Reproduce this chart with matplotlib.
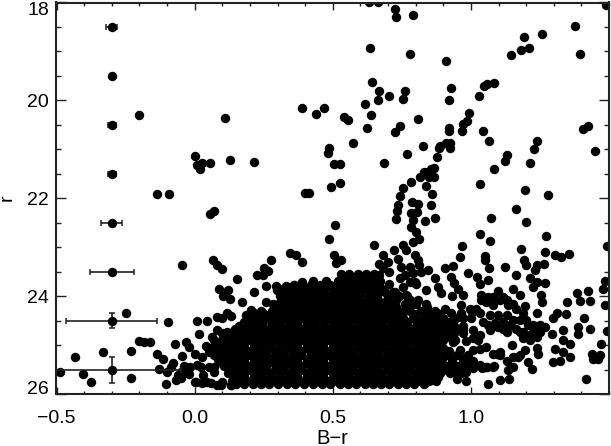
import matplotlib
matplotlib.use("Agg")
import matplotlib.pyplot as plt
from matplotlib.ticker import MultipleLocator
from matplotlib.transforms import ScaledTranslation

# reference stars with error bars
err_x = [-0.30, -0.30, -0.30, -0.30, -0.30, -0.30, -0.30, -0.30]
err_r = [18.5, 19.5, 20.5, 21.5, 22.5, 23.5, 24.5, 25.5]
err_dx = [0.02, 0.005, 0.015, 0.015, 0.038, 0.08, 0.165, 0.25]
err_dr = [0.01, 0.01, 0.01, 0.01, 0.02, 0.02, 0.15, 0.26]

# sparse stars, upper half
top_x = [-0.20, 0.11, 0.39, 0.0, 0.025, 0.01, 0.02, 0.055, 0.128, 0.214, -0.135, -0.093, 0.40, 0.055, 0.07,
         0.633, 0.663, 0.726, 0.728, 0.789, 0.635, 0.78, 0.911, 0.641, 0.666, 0.663, 0.705, 0.762, 0.755, 0.617,
         0.639, 0.469, 0.439, 0.54, 0.555, 0.624, 0.807, 0.744, 0.724, 0.574, 0.488, 0.484, 0.768, 0.828, 0.684,
         0.503, 0.526, 0.528, 0.494, 0.413, 0.927, 0.921, 0.921, 0.921, 0.909, 0.926, 0.923, 0.889, 0.883, 0.877,
         0.868, 0.857, 0.845, 0.832, 0.816, 0.868, 0.85, 0.785, 0.755, 0.837, 0.744, 0.859, 0.786, 0.808, 0.854,
         0.738, 0.733, 0.806, 0.784, 0.73, 0.871, 0.79, 0.835, 0.508, 1.072, 1.2, 1.163, 1.197, 1.278, 1.034,
         1.084, 1.125, 1.13, 1.214, 1.23, 1.241, 1.45, 1.406, 1.423, 1.067, 1.044, 0.969, 0.971, 0.987, 0.995,
         1.031, 1.048, 1.058, 1.085, 1.145, 1.18, 1.211, 1.192, 1.256, 1.378, 1.395, 1.49]
top_r = [20.3, 20.35, 20.16, 21.13, 21.27, 21.32, 21.4, 21.28, 21.21, 21.26, 21.92, 21.9, 21.88, 22.31, 22.26,
         18.0, 18.0, 18.13, 18.3, 18.26, 18.93, 19.06, 19.2, 19.62, 19.8, 20.0, 19.91, 19.8, 19.97, 20.07,
         20.29, 20.16, 20.28, 20.33, 20.4, 20.56, 20.37, 20.52, 20.65, 20.86, 20.98, 21.08, 21.09, 20.93, 21.27,
         21.3, 21.29, 21.68, 21.77, 21.88, 19.74, 19.99, 20.57, 20.62, 20.86, 20.86, 20.98, 20.93, 20.97, 21.16,
         21.37, 21.39, 21.46, 21.47, 21.56, 21.57, 21.56, 21.67, 21.78, 21.75, 21.95, 21.9, 22.07, 22.11, 22.13,
         22.14, 22.25, 22.27, 22.3, 22.42, 22.4, 22.44, 22.47, 22.55, 22.4, 22.49, 22.21, 21.82, 21.94, 21.7,
         21.39, 21.23, 21.12, 21.27, 20.99, 20.82, 21.03, 20.58, 20.53, 20.83, 20.62, 20.62, 20.48, 20.41, 20.26,
         19.91, 19.71, 19.67, 19.64, 19.07, 18.98, 18.92, 18.7, 18.64, 18.49, 19.05, 18.06]

# sparse stars, lower left
left_x = [-0.047, 0.067, 0.082, 0.098, 0.155, 0.278, 0.345, 0.367, 0.39, 0.252, 0.264, 0.225, 0.246, 0.258, 0.293,
          0.298, 0.33, 0.36, 0.39, 0.087, 0.122, 0.103, 0.128, 0.214, 0.171, 0.258, 0.282, 0.119, 0.133, 0.082,
          0.10, 0.203, 0.185, 0.215, -0.248, -0.097, 0.01, 0.046, 0.015, 0.082, 0.116, 0.064, 0.076, -0.20, -0.184,
          -0.16, -0.033, -0.071, -0.019, 0.04, -0.23, -0.33, -0.432, -0.136, -0.115, -0.047, 0.0, 0.028, 0.052,
          -0.077, -0.129, -0.10, -0.486, -0.404, -0.374, -0.232, -0.103, -0.069, -0.051, -0.015, -0.04, 0.01,
          0.052, 0.07, 0.0, 0.028, 0.058, 0.082, 0.10, 0.13, -0.06, -0.085, -0.02, 0.03,
          -0.027, 0.022, 0.07, 0.094, 0.119, 0.143, -0.05, 0.004, 0.046, 0.094, 0.131, 0.143, 0.167, 0.094, 0.131,
          0.179, 0.191]
left_r = [23.36, 23.25, 23.36, 23.44, 23.64, 23.25, 23.12, 23.16, 23.3, 23.43, 23.49, 23.57, 23.57, 23.79, 23.79,
          23.87, 23.79, 23.77, 23.7, 23.86, 23.87, 24.0, 24.05, 23.91, 24.11, 24.11, 24.15, 24.33, 24.4, 24.43,
          24.44, 24.28, 24.38, 24.35, 24.34, 24.53, 24.5, 24.5, 24.77, 24.69, 24.73, 24.83, 24.93, 24.91, 24.94,
          24.93, 24.93, 24.98, 25.03, 25.01, 25.12, 25.13, 25.23, 25.18, 25.27, 25.22, 25.17, 25.24, 25.14,
          25.37, 25.48, 25.54, 25.55, 25.58, 25.75, 25.67, 25.79, 25.71, 25.66, 25.45, 25.43, 25.41,
          25.44, 25.54, 25.75, 25.76, 25.77, 25.8, 25.75, 25.8, 25.6, 25.45, 25.58, 25.6,
          25.47, 25.44, 25.44, 25.3, 25.24, 25.14, 25.54, 25.75, 25.75, 25.81, 25.82, 25.54, 25.4, 25.0, 24.86,
          24.73, 24.53]

# sparse stars, lower right
right_x = [1.034, 1.068, 1.273, 1.492, 0.488, 0.506, 0.53, 0.51, 0.651, 0.969, 0.959, 1.05, 1.05, 1.183, 1.193,
           1.199, 1.267, 1.303, 1.328, 1.355, 1.264, 1.238, 1.232, 1.125, 1.066, 1.163, 1.214, 1.241, 1.268, 1.226,
           0.905, 0.935, 0.845, 0.869, 0.929, 0.99, 1.022, 1.032, 1.062, 0.939, 0.953, 0.881, 0.893, 0.836, 0.932,
           0.971, 1.153, 1.177, 1.254, 1.258, 1.099, 1.038, 1.383, 1.423, 1.486, 1.48, 1.347, 1.395, 1.432, 1.486,
           1.195, 1.165, 1.238, 1.31, 1.344, 1.298, 1.411, 1.389, 1.432, 1.492, 1.389, 1.292, 1.335, 1.335, 1.359,
           1.304, 1.335, 1.359, 1.323, 1.296, 1.47, 1.437, 1.467, 1.443, 1.461, 1.417, 1.238, 1.244, 1.195, 1.171,
           1.15, 1.129, 1.153, 1.135, 1.207, 1.222, 1.104, 1.138, 1.062, 0.981, 0.951, 1.02, 1.056, 1.08, 1.105,
           1.135, 1.068, 1.098, 1.129, 1.117, 1.141, 1.177, 1.201, 1.226, 1.25, 1.268, 1.238, 1.201, 1.214, 1.189,
           1.165, 1.129, 1.098, 1.068, 1.008, 0.984, 1.026, 1.032, 1.056, 1.093, 1.105, 1.008, 1.004, 0.965, 0.935,
           0.929, 0.905, 1.04, 1.06, 1.085,
           1.038, 1.062, 1.08, 1.116, 1.129, 1.153, 1.032, 1.044, 1.062, 1.087, 1.117, 1.153, 1.189, 1.208, 1.177,
           1.226, 1.25, 1.189, 1.238, 0.965, 0.971, 0.996, 0.947, 0.935, 0.971, 1.002, 1.032, 0.923, 0.941, 1.008,
           0.959, 0.984, 1.008, 1.032, 1.056, 1.08, 1.008, 0.984, 0.965, 1.08, 1.105, 1.153, 1.177]
right_r = [22.72, 22.87, 22.76, 22.97, 22.82, 23.16, 23.25, 23.31, 22.95, 22.98, 23.19, 23.18, 23.26, 23.03, 23.25,
           23.36, 23.1, 23.15, 23.2, 23.13, 23.34, 23.36, 23.47, 23.41, 23.43, 23.57, 23.62, 23.7, 23.72, 23.81,
           23.43, 23.38, 23.47, 23.62, 23.6, 23.53, 23.6, 23.74, 23.66, 23.72, 23.84, 23.81, 23.93, 23.87, 24.0,
           23.98, 23.84, 23.98, 23.98, 24.11, 23.9, 23.98, 23.93, 23.9, 23.68, 23.84, 24.11, 24.1, 24.1, 24.18,
           24.2, 24.25, 24.35, 24.35, 24.37, 24.45, 24.45, 24.62, 24.66, 24.7, 24.77, 24.76, 24.69, 24.9, 24.97,
           25.08, 25.13, 25.24, 25.31, 25.35, 24.98, 25.17, 25.2, 25.27, 25.27, 25.69, 25.06, 25.17, 25.1, 25.24,
           25.0, 25.31, 25.44, 25.51, 25.34, 25.49, 25.7, 25.69, 25.79, 25.73, 25.68, 24.25, 24.11, 24.18, 24.08,
           24.17, 24.38, 24.38, 24.38, 24.52, 24.59, 24.49, 24.49, 24.59, 24.59, 24.62, 24.69, 24.79, 24.9, 24.72,
           24.66, 24.72, 24.62, 24.69, 24.69, 24.91, 24.9, 25.07, 25.03, 25.17, 25.2, 25.1, 24.32, 24.33, 24.93,
           24.35, 24.25, 25.46, 25.45, 25.42,
           24.08, 24.01, 24.01, 24.01, 24.08, 24.15, 24.35, 24.52, 24.59, 24.55, 24.66, 24.49, 24.35, 24.59, 24.72,
           24.72, 24.72, 24.86, 24.83, 24.18, 24.45, 24.25, 24.45, 24.59, 24.66, 24.45, 24.79, 24.79, 24.89, 24.86,
           25.1, 25.24, 25.31, 25.41, 25.44, 25.44, 25.47, 25.54, 25.57, 25.17, 25.13, 25.24, 25.2]

# plume of stars rising out of the main clump
plume_x = [0.681, 0.72, 0.754, 0.784, 0.802, 0.814, 0.79, 0.766, 0.796, 0.808, 0.814, 0.668, 0.699, 0.735, 0.747,
           0.778, 0.79, 0.82, 0.76, 0.742, 0.778, 0.802, 0.681, 0.705,
           0.669, 0.705, 0.754, 0.796, 0.718, 0.766, 0.808, 0.839, 0.778]
plume_r = [23.16, 23.06, 22.95, 22.58, 22.68, 22.82, 22.89, 23.06, 23.16, 23.26, 23.36, 23.33, 23.3, 23.23, 23.4,
           23.4, 23.53, 23.5, 23.56, 23.63, 23.7, 23.74, 23.43, 23.5,
           23.57, 23.74, 23.81, 23.7, 23.91, 23.98, 24.08, 24.15, 24.18]

# main clump, read row by row since single stars can't be told apart there
clump_r = [23.55, 23.68, 23.85, 24.0, 24.15, 24.3, 24.45, 24.6, 24.75, 24.9, 25.05, 25.2, 25.35, 25.5, 25.65, 25.78]
clump_x = [
    [0.53, 0.56, 0.59, 0.62, 0.65],
    [0.43, 0.475, 0.52, 0.55, 0.58, 0.61, 0.64, 0.67],
    [0.31, 0.35, 0.38, 0.41, 0.44, 0.47, 0.50, 0.53, 0.56, 0.585, 0.62, 0.65, 0.68],
    [0.31, 0.335, 0.365, 0.39, 0.42, 0.45, 0.485, 0.51, 0.54, 0.57, 0.60, 0.63, 0.66, 0.70, 0.74, 0.77],
    [0.30, 0.34, 0.37, 0.405, 0.435, 0.465, 0.50, 0.525, 0.555, 0.585, 0.615, 0.645, 0.68, 0.71, 0.76, 0.80],
    [0.24, 0.28, 0.31, 0.345, 0.375, 0.41, 0.44, 0.47, 0.50, 0.53, 0.56, 0.59, 0.62, 0.65, 0.68, 0.71, 0.74, 0.78,
     0.82, 0.87],
    [0.19, 0.23, 0.26, 0.295, 0.325, 0.36, 0.39, 0.42, 0.455, 0.485, 0.515, 0.545, 0.575, 0.605, 0.635, 0.665,
     0.695, 0.725, 0.755, 0.79, 0.83, 0.87, 0.90],
    [0.16, 0.19, 0.22, 0.245, 0.28, 0.31, 0.34, 0.375, 0.405, 0.435, 0.47, 0.50, 0.53, 0.56, 0.59, 0.62, 0.65,
     0.68, 0.71, 0.74, 0.77, 0.80, 0.83, 0.86, 0.90, 0.94, 0.97],
    [0.10, 0.13, 0.16, 0.195, 0.225, 0.26, 0.29, 0.32, 0.355, 0.385, 0.415, 0.45, 0.48, 0.515, 0.545, 0.575, 0.605,
     0.635, 0.665, 0.695, 0.725, 0.755, 0.785, 0.815, 0.845, 0.875, 0.91, 0.94, 0.97],
    [0.07, 0.10, 0.135, 0.165, 0.20, 0.23, 0.26, 0.295, 0.325, 0.355, 0.39, 0.42, 0.45, 0.485, 0.515, 0.545, 0.575,
     0.605, 0.635, 0.665, 0.695, 0.725, 0.755, 0.785, 0.815, 0.84, 0.87, 0.90],
    [0.06, 0.09, 0.115, 0.15, 0.18, 0.215, 0.245, 0.275, 0.31, 0.34, 0.37, 0.405, 0.435, 0.465, 0.50, 0.53, 0.56,
     0.59, 0.62, 0.65, 0.68, 0.71, 0.74, 0.77, 0.80, 0.83, 0.86, 0.90],
    [0.07, 0.10, 0.135, 0.165, 0.195, 0.23, 0.26, 0.29, 0.325, 0.355, 0.385, 0.42, 0.45, 0.48, 0.515, 0.545, 0.575,
     0.605, 0.635, 0.665, 0.695, 0.725, 0.755, 0.785, 0.815, 0.845, 0.875, 0.91, 0.95, 0.99],
    [0.09, 0.12, 0.15, 0.18, 0.215, 0.245, 0.275, 0.31, 0.34, 0.37, 0.405, 0.435, 0.465, 0.50, 0.53, 0.56, 0.59,
     0.62, 0.65, 0.68, 0.71, 0.74, 0.77, 0.80, 0.83, 0.86, 0.89, 0.93, 0.97, 1.0],
    [0.15, 0.165, 0.195, 0.23, 0.26, 0.29, 0.325, 0.355, 0.385, 0.42, 0.45, 0.48, 0.515, 0.545, 0.575, 0.605, 0.635,
     0.665, 0.695, 0.725, 0.755, 0.785, 0.815, 0.845, 0.875, 0.90, 0.93, 0.97],
    [0.15, 0.18, 0.215, 0.245, 0.275, 0.31, 0.34, 0.37, 0.405, 0.435, 0.465, 0.50, 0.53, 0.56, 0.59, 0.62, 0.65,
     0.68, 0.71, 0.74, 0.77, 0.80, 0.83, 0.86, 0.88],
    [0.15, 0.18, 0.21, 0.24, 0.27, 0.30, 0.335, 0.365, 0.395, 0.43, 0.46, 0.49, 0.525, 0.555, 0.585, 0.615, 0.645,
     0.675, 0.705, 0.735, 0.765, 0.795, 0.83],
]

# in-between rows of the clump
clump2_r = [23.62, 23.77, 23.92, 24.07, 24.22, 24.37, 24.52, 24.67, 24.82, 24.97, 25.12, 25.27, 25.42, 25.57, 25.72]
clump2_x = [
    [0.535, 0.565, 0.60, 0.635, 0.66],
    [0.36, 0.39, 0.42, 0.455, 0.49, 0.525, 0.56, 0.59, 0.625, 0.655],
    [0.32, 0.35, 0.38, 0.41, 0.44, 0.47, 0.505, 0.535, 0.565, 0.60, 0.63, 0.66, 0.69, 0.725],
    [0.32, 0.35, 0.38, 0.415, 0.445, 0.475, 0.51, 0.54, 0.57, 0.60, 0.63, 0.665, 0.695, 0.73, 0.78],
    [0.29, 0.325, 0.355, 0.39, 0.42, 0.45, 0.485, 0.515, 0.545, 0.575, 0.61, 0.64, 0.67, 0.70, 0.73, 0.77, 0.84],
    [0.215, 0.25, 0.285, 0.32, 0.35, 0.38, 0.415, 0.445, 0.475, 0.51, 0.54, 0.57, 0.60, 0.63, 0.66, 0.69, 0.72,
     0.75, 0.80, 0.845, 0.885],
    [0.18, 0.21, 0.245, 0.275, 0.31, 0.34, 0.37, 0.405, 0.435, 0.47, 0.50, 0.53, 0.56, 0.59, 0.62, 0.65, 0.68,
     0.71, 0.74, 0.77, 0.81, 0.85, 0.885, 0.92],
    [0.145, 0.175, 0.21, 0.24, 0.27, 0.305, 0.335, 0.365, 0.40, 0.43, 0.46, 0.495, 0.525, 0.555, 0.585, 0.615,
     0.645, 0.675, 0.705, 0.735, 0.765, 0.795, 0.825, 0.855, 0.885, 0.925, 0.955],
    [0.115, 0.15, 0.18, 0.21, 0.245, 0.275, 0.305, 0.34, 0.37, 0.40, 0.435, 0.465, 0.495, 0.53, 0.56, 0.59, 0.62,
     0.65, 0.68, 0.71, 0.74, 0.77, 0.80, 0.83, 0.86, 0.89, 0.925],
    [0.085, 0.12, 0.15, 0.18, 0.215, 0.245, 0.275, 0.31, 0.34, 0.37, 0.405, 0.435, 0.465, 0.50, 0.53, 0.56, 0.59,
     0.62, 0.65, 0.68, 0.71, 0.74, 0.77, 0.80, 0.83, 0.855, 0.885],
    [0.075, 0.105, 0.135, 0.165, 0.20, 0.23, 0.26, 0.295, 0.325, 0.355, 0.39, 0.42, 0.45, 0.485, 0.515, 0.545,
     0.575, 0.605, 0.635, 0.665, 0.695, 0.725, 0.755, 0.785, 0.815, 0.845, 0.88, 0.92],
    [0.085, 0.12, 0.15, 0.18, 0.215, 0.245, 0.275, 0.31, 0.34, 0.37, 0.405, 0.435, 0.465, 0.50, 0.53, 0.56, 0.59,
     0.62, 0.65, 0.68, 0.71, 0.74, 0.77, 0.80, 0.83, 0.86, 0.895, 0.93, 0.97],
    [0.105, 0.135, 0.165, 0.20, 0.23, 0.26, 0.295, 0.325, 0.355, 0.39, 0.42, 0.45, 0.485, 0.515, 0.545, 0.575,
     0.605, 0.635, 0.665, 0.695, 0.725, 0.755, 0.785, 0.815, 0.845, 0.875, 0.91, 0.95, 0.985],
    [0.12, 0.15, 0.18, 0.215, 0.245, 0.275, 0.31, 0.34, 0.37, 0.405, 0.435, 0.465, 0.50, 0.53, 0.56, 0.59, 0.62,
     0.65, 0.68, 0.71, 0.74, 0.77, 0.80, 0.83, 0.86, 0.89, 0.925, 0.95],
    [0.135, 0.165, 0.20, 0.23, 0.26, 0.295, 0.325, 0.355, 0.39, 0.42, 0.45, 0.485, 0.515, 0.545, 0.575, 0.605,
     0.635, 0.665, 0.695, 0.725, 0.755, 0.785, 0.815, 0.85, 0.875],
]

plt.rcParams['font.family'] = ['Liberation Sans', 'DejaVu Sans']

fig = plt.figure(figsize=(6.11, 4.46), dpi=100)
ax = fig.add_axes([56.5 / 611, 1 - 394.3 / 446, (609 - 56.5) / 611, (394.3 - 2.5) / 446])

star_style = dict(linestyle='none', marker='o', ms=6.8, mec='none', color='black')
ax.plot(top_x, top_r, **star_style)
ax.plot(left_x, left_r, **star_style)
ax.plot(right_x, right_r, **star_style)
ax.plot(plume_x, plume_r, **star_style)
for row_r, row_x in zip(clump_r + clump2_r, clump_x + clump2_x):
    ax.plot(row_x, [row_r] * len(row_x), **star_style)

ax.errorbar(err_x, err_r, xerr=err_dx, yerr=err_dr, fmt='o', ms=6.8, mec='none', color='black',
            ecolor='#222222', elinewidth=1.2, capsize=2, capthick=1.1)

ax.set_xlim(-0.5, 1.5)
ax.set_ylim(26, 18)
ax.xaxis.set_minor_locator(MultipleLocator(0.1))
ax.yaxis.set_major_locator(MultipleLocator(2))
ax.yaxis.set_minor_locator(MultipleLocator(0.5))
ax.set_xticks([-0.5, 0.0, 0.5, 1.0])
ax.set_xticklabels(['\u22120.5', '0.0', '0.5', '1.0'])

ax.tick_params(axis='x', which='major', direction='in', top=True, length=5, width=1, labelsize=14, pad=11.5, color='#222222')
ax.tick_params(axis='x', which='minor', direction='in', top=True, length=2.5, width=1, color='#222222')
ax.tick_params(axis='y', which='major', direction='in', right=True, length=7.2, width=1, labelsize=14, pad=5.5, color='#222222')
ax.tick_params(axis='y', which='minor', direction='in', right=True, length=3.6, width=1, color='#222222')
for spine in ax.spines.values():
    spine.set_linewidth(1.5)
    spine.set_color('#222222')

# end labels sit inside the axis range in the original
fig.canvas.draw()
for label in ax.get_yticklabels():
    if label.get_text() == '18':
        label.set_verticalalignment('top')
    elif label.get_text() == '26':
        label.set_verticalalignment('baseline')

fig.text(332 / 611, 1 - 438 / 446, 'B\u2212r', fontsize=14.5, ha='center', va='center')
fig.text(7 / 611, 1 - 198 / 446, 'r', fontsize=14, rotation=90, ha='center', va='center')

fig.savefig('out.png', dpi=100)
